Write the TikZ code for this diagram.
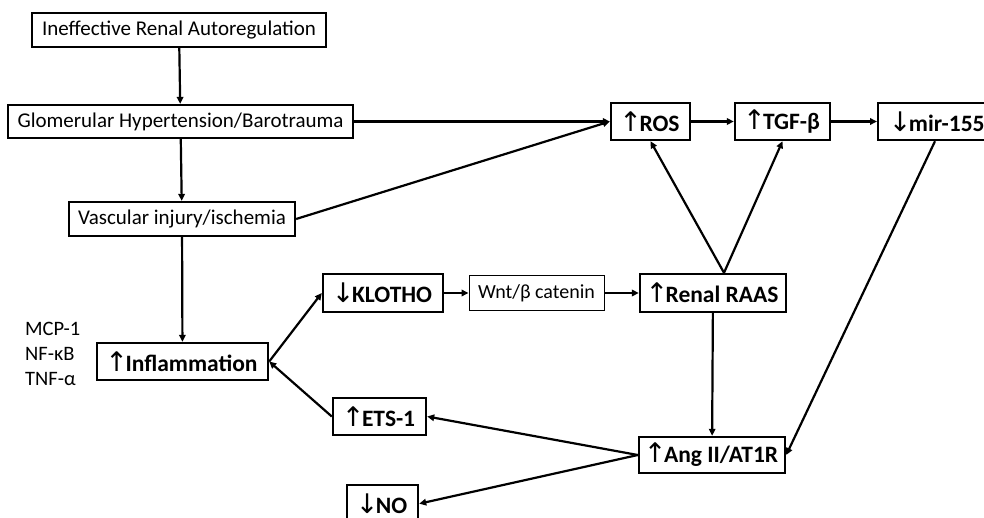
\documentclass[tikz,border=0pt]{standalone}
\usepackage{fontspec}
\setmainfont{Carlito}
\newfontfamily\arr{DejaVu Sans}
\usetikzlibrary{arrows.meta}
\newcommand{\up}{{\arr\mdseries\fontsize{27}{27}\selectfont\kern-2pt↑}\kern-2.5pt}
\newcommand{\dn}{{\arr\mdseries\fontsize{27}{27}\selectfont\kern-2pt↓}\kern-2.5pt}
\tikzset{
  box/.style={draw, line width=2.4pt, inner sep=0pt, minimum height=37pt, font=\fontsize{23.5}{26}\selectfont\bfseries},
  plain/.style={draw, line width=2.2pt, inner sep=0pt, minimum height=34pt, font=\fontsize{21}{24}\selectfont},
  thin/.style={draw, line width=1pt, inner sep=0pt, minimum height=34pt, font=\fontsize{20}{23}\selectfont},
  conn/.style={line width=2.2pt, -{Triangle[length=7pt,width=6.5pt]}},
}
\begin{document}
\begin{tikzpicture}[x=1pt,y=-1pt]
\useasboundingbox (0,0) rectangle (984,518);
\node[plain, minimum width=294pt] (ira) at (179,30) {Ineffective Renal Autoregulation};
\node[plain, minimum width=345pt, minimum height=33pt] (glom) at (180.5,121.5) {Glomerular Hypertension/Barotrauma};
\node[plain, minimum width=226pt] (vasc) at (182,219) {Vascular injury/ischemia};
\node[box, minimum width=79pt] (ros) at (650.5,121.5) {\up ROS};
\node[box, minimum width=95pt] (tgf) at (782.5,121.5) {\up TGF-β};
\node[box, minimum width=118pt, anchor=west] (mir) at (877,121.5) {\hspace{1pt}\dn mir-155\hspace*{\fill}};
\node[box, minimum width=120pt, minimum height=38pt] (klotho) at (383,293) {\dn KLOTHO};
\node[box, minimum width=171pt] (infl) at (182.5,361.5) {\up Inflammation};
\node[box, minimum width=93pt] (ets) at (379.5,416.5) {\up ETS-1};
\node[box, minimum width=71pt, anchor=north] (no) at (382.5,484) {\dn NO};
\node[thin, minimum width=135pt] (wnt) at (536.5,293) {Wnt/β catenin};
\node[box, minimum width=146pt, minimum height=38pt] (raas) at (713,293) {\up Renal RAAS};
\node[box, minimum width=146pt, minimum height=36pt] (ang) at (712,455) {\up Ang II/AT1R};
\node[anchor=west, align=left, inner sep=0pt, font=\fontsize{20.5}{25}\selectfont] (markers) at (25,354) {MCP-1\\NF-κB\\TNF-α};
\draw[conn] (ira) -- (glom);
\draw[conn] (glom) -- (vasc);
\draw[conn] (glom.east) -- (ros.west);
\draw[conn] (vasc.east) -- (ros.west);
\draw[conn] (vasc) -- (infl);
\draw[conn] (ros) -- (tgf);
\draw[conn] (tgf) -- (mir);
\draw[conn] (infl.east) -- (klotho.west);
\draw[conn] (klotho) -- (wnt);
\draw[conn] (wnt) -- (raas);
\draw[conn] ([xshift=11pt]raas.north) -- (ros.south);
\draw[conn] ([xshift=11pt]raas.north) -- (tgf.south);
\draw[conn] (raas) -- (ang);
\draw[conn] (mir.south west -| 935,0) -- (ang.east);
\draw[conn] (ets.west) -- (infl.east);
\draw[conn] (ang.west) -- (ets.east);
\draw[conn] (ang.west) -- (no.east);
\end{tikzpicture}
\end{document}
